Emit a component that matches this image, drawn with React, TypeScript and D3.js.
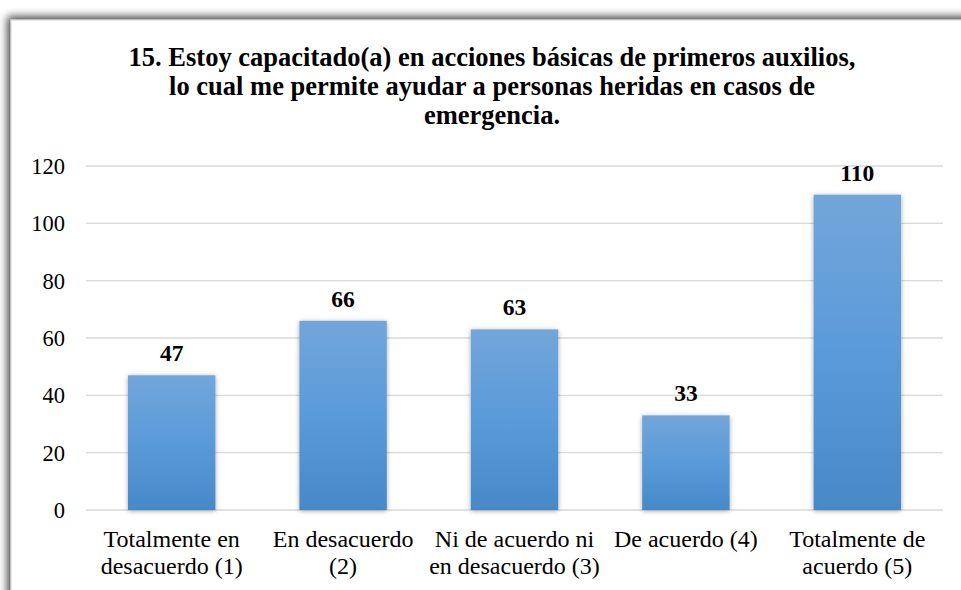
import React from "react";
import * as d3 from "d3";

const categories = [
  ["Totalmente en", "desacuerdo (1)"],
  ["En desacuerdo", "(2)"],
  ["Ni de acuerdo ni", "en desacuerdo (3)"],
  ["De acuerdo (4)"],
  ["Totalmente de", "acuerdo (5)"],
];
const values = [47, 66, 63, 33, 110];
const yTicks = [0, 20, 40, 60, 80, 100, 120];
const titleLines = [
  "15. Estoy capacitado(a) en acciones básicas de primeros auxilios,",
  "lo cual me permite ayudar a personas heridas en casos de",
  "emergencia.",
];

const W = 961;
const H = 590;
const FONT = "'Liberation Serif', 'Times New Roman', serif";

export default function App() {
  const x = d3
    .scaleBand<number>()
    .domain(values.map((_, i) => i))
    .range([86, 943])
    .paddingInner(0.49)
    .paddingOuter(0.245);
  const y = d3.scaleLinear().domain([0, 120]).range([510, 166]);
  const band = (943 - 86) / values.length;

  return (
    <div style={{ position: "absolute", left: 0, top: 0 }}>
      <svg width={W} height={H} style={{ display: "block" }}>
        <defs>
          <linearGradient id="barGrad" x1="0" y1="0" x2="0" y2="1">
            <stop offset="0%" stopColor="#72a6da" />
            <stop offset="50%" stopColor="#5a9ad9" />
            <stop offset="100%" stopColor="#4789c8" />
          </linearGradient>
          <filter id="boxShadow" x="-5%" y="-5%" width="110%" height="110%">
            <feGaussianBlur in="SourceAlpha" stdDeviation="4" />
            <feOffset dx="-3" dy="-3" result="b" />
            <feComponentTransfer>
              <feFuncA type="linear" slope="0.75" />
            </feComponentTransfer>
            <feMerge>
              <feMergeNode />
              <feMergeNode in="SourceGraphic" />
            </feMerge>
          </filter>
          <filter id="barShadow" x="-20%" y="-10%" width="140%" height="120%">
            <feGaussianBlur in="SourceAlpha" stdDeviation="2.5" />
            <feOffset dx="0" dy="1" />
            <feComponentTransfer>
              <feFuncA type="linear" slope="0.35" />
            </feComponentTransfer>
            <feMerge>
              <feMergeNode />
              <feMergeNode in="SourceGraphic" />
            </feMerge>
          </filter>
        </defs>
        <rect x={0} y={0} width={W} height={H} fill="#ffffff" />
        <rect
          x={11}
          y={20}
          width={980}
          height={600}
          fill="#ffffff"
          stroke="#d0d0d0"
          strokeWidth={1}
          filter="url(#boxShadow)"
        />
        <g fontFamily={FONT} fontWeight="bold" fontSize={26.5} textAnchor="middle" fill="#000">
          {titleLines.map((t, i) => (
            <text key={i} x={492} y={66 + i * 29}>
              {t}
            </text>
          ))}
        </g>
        <g>
          {yTicks.map((t) => (
            <g key={t}>
              <line x1={86} x2={943} y1={y(t)} y2={y(t)} stroke="#d9d9d9" strokeWidth={1.3} />
              <text
                x={65}
                y={y(t)}
                dy="0.35em"
                textAnchor="end"
                fontFamily={FONT}
                fontSize={22.5}
                fill="#000"
              >
                {t}
              </text>
            </g>
          ))}
        </g>
        <g>
          {values.map((v, i) => (
            <rect
              key={i}
              x={x(i)}
              y={y(v)}
              width={x.bandwidth()}
              height={y(0) - y(v)}
              fill="url(#barGrad)"
              filter="url(#barShadow)"
            />
          ))}
        </g>
        <g fontFamily={FONT} fontWeight="bold" fontSize={23.5} textAnchor="middle" fill="#000">
          {values.map((v, i) => (
            <text key={i} x={(x(i) as number) + x.bandwidth() / 2} y={y(v) - 14}>
              {v}
            </text>
          ))}
        </g>
        <g fontFamily={FONT} fontSize={24} textAnchor="middle" fill="#000">
          {categories.map((lines, i) => (
            <text key={i} x={86 + band * (i + 0.5)} y={547}>
              {lines.map((l, j) => (
                <tspan key={j} x={86 + band * (i + 0.5)} dy={j === 0 ? 0 : 26.5}>
                  {l}
                </tspan>
              ))}
            </text>
          ))}
        </g>
      </svg>
    </div>
  );
}
